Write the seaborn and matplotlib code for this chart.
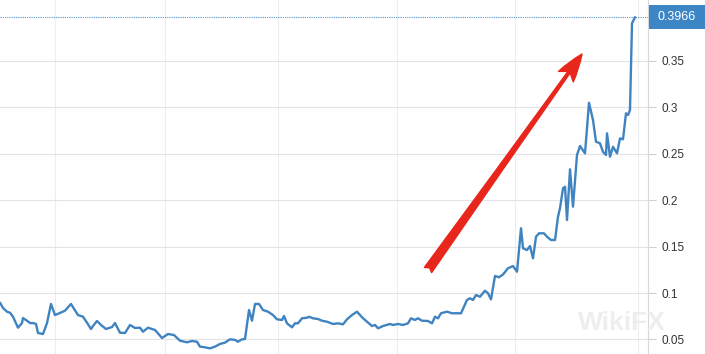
import matplotlib
matplotlib.use("Agg")
import matplotlib.pyplot as plt
from matplotlib.patches import Rectangle
from matplotlib.transforms import blended_transform_factory
import seaborn as sns
import pandas as pd

# ---- data ----
day = [0, 3, 7, 10, 13, 18, 22, 23, 27, 30, 33, 36, 38, 43, 47, 51, 55, 60, 65, 71,
       78, 83, 87, 91, 93, 97, 101, 106, 112, 115, 120, 125, 130, 135, 140, 143, 148,
       155, 162, 168, 174, 180, 187, 192, 197, 200, 205, 210, 215, 220, 225, 230, 235,
       238, 242, 245, 249, 252, 255, 259, 263, 268, 273, 277, 282, 284, 287, 292, 295,
       298, 302, 307, 309, 313, 318, 322, 327, 333, 338, 343, 347, 352, 357, 362, 367,
       372, 375, 378, 383, 390, 393, 398, 403, 408, 411, 415, 418, 422, 428, 432, 435,
       438, 441, 447, 452, 461, 467, 470, 473, 476, 480, 485, 488, 491, 495, 499, 503,
       508, 513, 517, 521, 523, 527, 530, 533, 536, 539, 544, 547, 551, 555, 558, 560,
       563, 565, 567, 570, 573, 577, 580, 585, 589, 593, 596, 600, 603, 606, 607, 610,
       613, 617, 620, 623, 626, 628, 630, 632, 635]
rate = [0.0896, 0.0839, 0.0799, 0.0788, 0.0745, 0.0627, 0.0677, 0.0731, 0.0702, 0.0677,
        0.0677, 0.0667, 0.0570, 0.0559, 0.0677, 0.0882, 0.0763, 0.0785, 0.0810, 0.0882,
        0.0763, 0.0745, 0.0681, 0.0613, 0.0645, 0.0699, 0.0656, 0.0613, 0.0634, 0.0677,
        0.0573, 0.0570, 0.0656, 0.0624, 0.0627, 0.0584, 0.0627, 0.0602, 0.0516, 0.0559,
        0.0548, 0.0487, 0.0470, 0.0484, 0.0476, 0.0423, 0.0416, 0.0405, 0.0423, 0.0452,
        0.0466, 0.0502, 0.0495, 0.0476, 0.0502, 0.0505, 0.0817, 0.0702, 0.0882, 0.0882,
        0.0817, 0.0799, 0.0763, 0.0717, 0.0710, 0.0753, 0.0674, 0.0631, 0.0674, 0.0674,
        0.0728, 0.0734, 0.0745, 0.0728, 0.0720, 0.0702, 0.0691, 0.0667, 0.0674, 0.0663,
        0.0717, 0.0763, 0.0799, 0.0739, 0.0691, 0.0645, 0.0656, 0.0620, 0.0645, 0.0667,
        0.0656, 0.0667, 0.0656, 0.0674, 0.0728, 0.0710, 0.0728, 0.0702, 0.0699, 0.0674,
        0.0745, 0.0728, 0.0782, 0.0799, 0.0782, 0.0782, 0.0925, 0.0943, 0.0925, 0.0978,
        0.0960, 0.1025, 0.0997, 0.0932, 0.1183, 0.1169, 0.1199, 0.1266, 0.1290, 0.1229,
        0.1696, 0.1481, 0.1462, 0.1505, 0.1373, 0.1605, 0.1642, 0.1642, 0.1605, 0.1570,
        0.1570, 0.1820, 0.1911, 0.2126, 0.2143, 0.1785, 0.2330, 0.1928, 0.2484, 0.2581,
        0.2502, 0.3046, 0.2860, 0.2627, 0.2610, 0.2519, 0.2484, 0.2717, 0.2466, 0.2573,
        0.2502, 0.2663, 0.2653, 0.2932, 0.2914, 0.2968, 0.3900, 0.3966]
y_ticks = [0.05, 0.10, 0.15, 0.20, 0.25, 0.30, 0.35]
y_tick_labels = ["0.05", "0.1", "0.15", "0.2", "0.25", "0.3", "0.35"]
x_grid_days = [55, 165, 278, 397, 515, 638]
last_value = 0.3966
last_label = "0.3966"
arrow_start = (428, 0.1247)
arrow_end = (582, 0.357)
watermark = "WikiFX"

df = pd.DataFrame({"day": day, "rate": rate})

sns.set_style("white")
plt.rcParams["font.family"] = ["Liberation Sans", "DejaVu Sans"]

fig = plt.figure(figsize=(7.05, 3.54), dpi=100)
ax = fig.add_axes([0, 0, 648 / 705, 1])

# watermark (kept inside the plot area)
fig.text(578 / 705, 24 / 354, watermark, fontsize=19, fontweight="bold",
         color="#eeeeee", ha="left", va="baseline", zorder=0)

sns.lineplot(data=df, x="day", y="rate", ax=ax, color="#3f83c0", linewidth=1.7, zorder=3)

ymin, ymax = 0.0344, 0.4151
ax.set_xlim(0, 648)
ax.set_ylim(ymin, ymax)
ax.set_xticks(x_grid_days)
ax.set_xticklabels([])
ax.set_yticks(y_ticks)
ax.set_yticklabels(y_tick_labels)
ax.yaxis.tick_right()
ax.tick_params(axis="y", length=6, width=0.8, color="#d0d0d0", pad=4,
               labelsize=8.5, labelcolor="#333333")
ax.tick_params(axis="x", length=0)
ax.grid(True, axis="y", color="#e3e3e3", linewidth=0.8)
ax.grid(True, axis="x", color="#ededed", linewidth=0.8)
ax.set_xlabel("")
ax.set_ylabel("")
ax.patch.set_alpha(0)
for s in ["top", "left", "bottom"]:
    ax.spines[s].set_visible(False)
ax.spines["right"].set_color("#d8d8d8")
ax.spines["right"].set_linewidth(0.8)

# last value dotted line and label box
ax.axhline(last_value, color="#5b93c9", linestyle=(0, (1, 1)), linewidth=0.8, zorder=2)
tr = blended_transform_factory(ax.transAxes, ax.transData)
box_h = 24 * (ymax - ymin) / 354
ax.add_patch(Rectangle((1.0015, last_value - box_h / 2), 56 / 648, box_h,
                       transform=tr, clip_on=False, facecolor="#3d86c6",
                       edgecolor="none", zorder=5))
ax.text(1.0015 + 28 / 648, last_value, last_label, transform=tr, ha="center",
        va="center", color="white", fontsize=9, zorder=6, clip_on=False)

# red arrow
ax.annotate("", xy=arrow_end, xytext=arrow_start,
            arrowprops=dict(arrowstyle="fancy,head_length=1.0,head_width=0.65,tail_width=0.32",
                            color="#e8261c", mutation_scale=20, shrinkA=0, shrinkB=0),
            zorder=4)

fig.savefig("out.png", dpi=100)
